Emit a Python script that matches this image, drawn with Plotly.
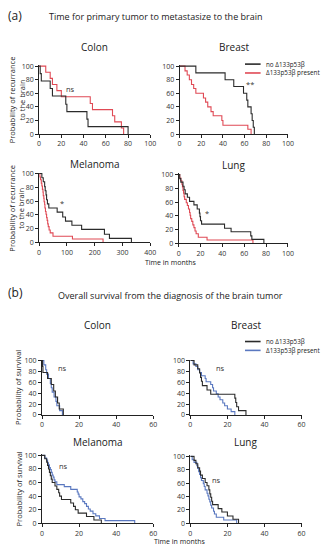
import plotly.graph_objects as go

W, H = 331, 550
BLACK = "#2b2b2b"
RED = "#e04a55"
BLUE = "#5a78c0"
FONT = "Open Sans"

# ---------------- data ----------------
# (a) time to brain metastasis, months / % probability
a_colon_no_t = [1, 2, 10, 12, 24, 25, 43, 44, 80]
a_colon_no_s = [89, 78, 67, 56, 44, 33, 22, 11, 0]
a_colon_pr_t = [6, 10, 12, 16, 20, 46, 48, 66, 68, 74, 76]
a_colon_pr_s = [91, 82, 73, 64, 55, 45, 36, 27, 18, 9, 0]

a_breast_no_t = [15, 42, 50, 59, 62, 63, 66, 67, 68, 69]
a_breast_no_s = [90, 80, 70, 60, 50, 40, 30, 20, 10, 0]
a_breast_pr_t = [5, 7, 9, 11, 13, 15, 22, 24, 26, 29, 31, 39, 40, 63, 66]
a_breast_pr_s = [93, 87, 80, 73, 67, 60, 53, 47, 40, 33, 27, 20, 13, 7, 0]

a_mel_no_t = [10, 15, 20, 22, 25, 27, 30, 35, 65, 85, 95, 118, 153, 235, 253, 332]
a_mel_no_s = [94, 88, 81, 75, 69, 62, 56, 50, 44, 37, 31, 25, 19, 12, 6, 0]
a_mel_pr_t = [3, 5, 8, 10, 12, 14, 15, 17, 18, 20, 21, 23, 25, 27, 29, 31, 33, 36, 40, 50, 120, 230]
a_mel_pr_s = [95, 91, 86, 82, 77, 73, 68, 64, 59, 55, 50, 45, 41, 36, 32, 27, 23, 18, 14, 9, 5, 0]

a_lung_no_t = [1, 2, 4, 5, 6, 8, 10, 14, 17, 19, 19.5, 20, 21, 42, 48, 66, 67, 78]
a_lung_no_s = [94, 89, 83, 78, 72, 67, 61, 56, 50, 44, 39, 33, 28, 22, 17, 11, 6, 0]
a_lung_pr_t = [1, 2, 3, 3.5, 4, 4.5, 5, 5.5, 7, 8, 9, 10, 10.5, 11, 12, 13, 14, 15, 16, 18, 26, 68]
a_lung_pr_s = [95, 91, 86, 82, 77, 73, 68, 64, 59, 55, 50, 45, 41, 36, 32, 27, 23, 18, 14, 9, 5, 0]

# (b) overall survival, months / % survival
b_colon_no_t = [0.3, 0.5, 3, 5, 6.3, 7.2, 8.4, 9.3, 11.5]
b_colon_no_s = [89, 78, 67, 56, 44, 33, 22, 11, 0]
b_colon_pr_t = [1, 2, 2.5, 3.5, 4.5, 5, 5.5, 6.5, 7.5, 8, 9.5, 11]
b_colon_pr_s = [92, 83, 75, 67, 58, 50, 42, 33, 25, 17, 8, 0]

b_breast_no_t = [2, 4, 5, 5.5, 6, 6.5, 9, 11, 24, 24.5, 25, 26, 30]
b_breast_no_s = [92, 85, 77, 69, 62, 54, 46, 38, 31, 23, 15, 8, 0]
b_breast_pr_t = [1.5, 3, 4, 5, 6, 8, 8.5, 11, 12, 12.5, 14, 15, 16, 17.5, 18.5, 20, 22, 24]
b_breast_pr_s = [94, 89, 83, 78, 72, 67, 61, 56, 50, 44, 39, 33, 28, 22, 17, 11, 6, 0]

b_mel_no_t = [1.5, 2.5, 3, 3.5, 4, 4.5, 5, 5.5, 7, 8, 9, 9.5, 10.5, 15.5, 17, 18, 19.5, 24, 28, 32]
b_mel_no_s = [95, 90, 85, 80, 75, 70, 65, 60, 55, 50, 45, 40, 35, 30, 25, 20, 15, 10, 5, 0]
b_mel_pr_t = [1.5, 2.5, 3, 3.5, 4, 4.5, 5, 5.5, 6, 6.5, 7, 8, 12, 15.5, 19, 19.5, 20, 21, 22, 23,
              24, 25, 26, 27.5, 29, 31, 34, 50]
b_mel_pr_s = [96, 93, 89, 86, 82, 79, 75, 71, 68, 64, 61, 57, 54, 50, 46, 43, 39, 36, 32, 29,
              25, 21, 18, 14, 11, 7, 4, 0]

b_lung_no_t = [2, 3, 4, 5, 5.5, 6.5, 8, 9, 10, 10.5, 11, 11.5, 12, 15, 17, 20, 23, 26]
b_lung_no_s = [94, 89, 83, 78, 72, 67, 61, 56, 50, 44, 39, 33, 28, 22, 17, 11, 6, 0]
b_lung_pr_t = [1, 2, 3.5, 4, 4.5, 5, 5.5, 6, 7, 7.5, 8, 9, 9.5, 10, 10.5, 11, 11.5, 12.5, 13, 14, 18, 25]
b_lung_pr_s = [95, 91, 86, 82, 77, 73, 68, 64, 59, 55, 50, 45, 41, 36, 32, 27, 23, 18, 14, 9, 5, 0]

panel_titles = ["Colon", "Breast", "Melanoma", "Lung"]
y_ticks = [0, 20, 40, 60, 80, 100]
x_ticks_100 = [0, 20, 40, 60, 80, 100]
x_ticks_400 = [0, 100, 200, 300, 400]
x_ticks_60 = [0, 20, 40, 60]
legend_labels = ["no Δ133p53β", "Δ133p53β present"]
sig_labels = ["ns", "**", "*", "*", "ns", "ns", "ns", "ns"]

# ---------------- layout helpers ----------------
def px_x(p):
    return p / W

def px_y(p):
    return 1 - p / H

# panel boxes in pixels: (left, right, top, bottom)
boxes = [
    (38, 152, 62, 132), (182, 293, 62, 132), (38, 152, 171, 242), (181, 293, 172, 243),
    (41, 155, 361, 417), (193, 307, 361, 417), (41, 155, 457, 527), (193, 307, 458, 527),
]
title_y = [44, 44, 162, 163, 326, 326, 444, 444]
xmax = [100, 100, 400, 100, 60, 60, 60, 60]
xticks = [x_ticks_100, x_ticks_100, x_ticks_400, x_ticks_100, x_ticks_60, x_ticks_60, x_ticks_60, x_ticks_60]

series = [
    (a_colon_no_t, a_colon_no_s, a_colon_pr_t, a_colon_pr_s, RED),
    (a_breast_no_t, a_breast_no_s, a_breast_pr_t, a_breast_pr_s, RED),
    (a_mel_no_t, a_mel_no_s, a_mel_pr_t, a_mel_pr_s, RED),
    (a_lung_no_t, a_lung_no_s, a_lung_pr_t, a_lung_pr_s, RED),
    (b_colon_no_t, b_colon_no_s, b_colon_pr_t, b_colon_pr_s, BLUE),
    (b_breast_no_t, b_breast_no_s, b_breast_pr_t, b_breast_pr_s, BLUE),
    (b_mel_no_t, b_mel_no_s, b_mel_pr_t, b_mel_pr_s, BLUE),
    (b_lung_no_t, b_lung_no_s, b_lung_pr_t, b_lung_pr_s, BLUE),
]
# significance label positions (data coords)
sig_pos = [(28, 67), (65, 73), (83, 57), (26, 44), (11, 86), (16, 86), (11.5, 84), (14, 65)]

fig = go.Figure()
annotations = []
shapes = []

for i, (box, (nt, ns_, pt, ps, col)) in enumerate(zip(boxes, series)):
    k = i + 1
    xa = "x" if k == 1 else f"x{k}"
    ya = "y" if k == 1 else f"y{k}"
    # present group drawn first, no group on top
    fig.add_trace(go.Scatter(x=[0] + pt, y=[100] + ps, mode="lines", line=dict(color=col, width=1.1, shape="hv"),
                             xaxis=xa, yaxis=ya, showlegend=False, hoverinfo="skip"))
    fig.add_trace(go.Scatter(x=[0] + nt, y=[100] + ns_, mode="lines", line=dict(color=BLACK, width=1.1, shape="hv"),
                             xaxis=xa, yaxis=ya, showlegend=False, hoverinfo="skip"))
    l, r, t, b = box
    axis_common = dict(showline=True, linecolor="#222", linewidth=1, ticks="outside", ticklen=3, tickwidth=1,
                       tickcolor="#222", tickfont=dict(size=7, color="#333", family=FONT), showgrid=False,
                       zeroline=False, fixedrange=True)
    fig.layout[f"xaxis{k if k > 1 else ''}"] = dict(domain=[px_x(l), px_x(r)], anchor=ya, range=[0, xmax[i]],
                                                    tickvals=xticks[i], **axis_common)
    fig.layout[f"yaxis{k if k > 1 else ''}"] = dict(domain=[px_y(b), px_y(t)], anchor=xa, range=[0, 101.5],
                                                    tickvals=y_ticks, **axis_common)
    # panel title
    annotations.append(dict(text=panel_titles[i % 4], x=(px_x(l) + px_x(r)) / 2, y=px_y(title_y[i]), xref="paper",
                            yref="paper", showarrow=False, font=dict(size=10, color="#222", family=FONT),
                            xanchor="center", yanchor="middle"))
    sx, sy = sig_pos[i]
    annotations.append(dict(text=sig_labels[i], x=sx, y=sy, xref=xa, yref=ya, showarrow=False,
                            font=dict(size=7.5, color="#333", family=FONT)))

# headings
annotations += [
    dict(text="(a)", x=px_x(4), y=px_y(12), xanchor="left", font=dict(size=12)),
    dict(text="Time for primary tumor to metastasize to the brain", x=px_x(158), y=px_y(13), font=dict(size=9)),
    dict(text="(b)", x=px_x(4), y=px_y(293), xanchor="left", font=dict(size=12)),
    dict(text="Overall survival from the diagnosis of the brain tumor", x=px_x(173), y=px_y(296), font=dict(size=9)),
    dict(text="Time in months", x=px_x(173), y=px_y(262), font=dict(size=7)),
    dict(text="Time in months", x=px_x(182), y=px_y(545), font=dict(size=7)),
    dict(text="Probability of recurrance<br>to the brain", x=px_x(15), y=px_y(97), textangle=-90, font=dict(size=7.5)),
    dict(text="Probability of recurrance<br>to the brain", x=px_x(15), y=px_y(207), textangle=-90, font=dict(size=7.5)),
    dict(text="Probability of survival", x=px_x(17), y=px_y(389), textangle=-90, font=dict(size=7.5)),
    dict(text="Probability of survival", x=px_x(17), y=px_y(492), textangle=-90, font=dict(size=7.5)),
]
for a in annotations[-10:]:
    a.update(xref="paper", yref="paper", showarrow=False)
    a.setdefault("xanchor", "center")
    a["yanchor"] = "middle"
    a["font"] = dict(family=FONT, color="#222", **a["font"])

# legends (line keys + labels)
for (y1, y2, c2) in [(61, 70, RED), (342.5, 351.5, BLUE)]:
    for yy, cc, lab in [(y1, BLACK, legend_labels[0]), (y2, c2, legend_labels[1])]:
        shapes.append(dict(type="line", xref="paper", yref="paper", x0=px_x(249), x1=px_x(265), y0=px_y(yy),
                           y1=px_y(yy), line=dict(color=cc, width=1.6)))
        annotations.append(dict(text=lab, x=px_x(268), y=px_y(yy), xref="paper", yref="paper", showarrow=False,
                                xanchor="left", yanchor="middle", font=dict(size=6.3, color="#222", family=FONT)))

fig.update_layout(width=W, height=H, margin=dict(l=0, r=0, t=0, b=0), paper_bgcolor="white",
                  plot_bgcolor="white", annotations=annotations, shapes=shapes, showlegend=False,
                  font=dict(family=FONT))
fig.write_html("out.html", config={"displayModeBar": False},
               post_script="document.body.style.margin='0';document.body.style.overflow='hidden';")
